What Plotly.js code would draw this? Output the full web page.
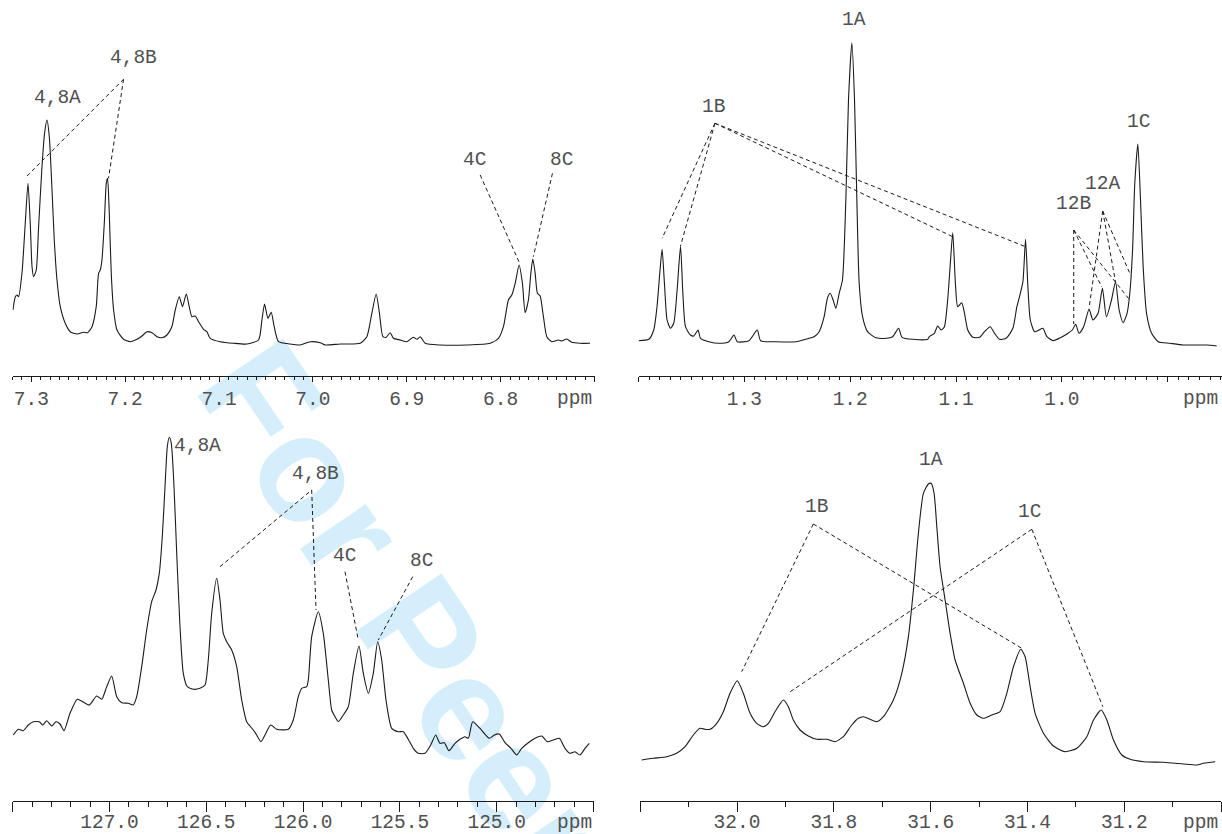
<!DOCTYPE html>
<html>
<head>
<meta charset="utf-8">
<script src="https://cdn.plot.ly/plotly-3.0.1.min.js"></script>
<style>
  html, body { margin:0; padding:0; background:#ffffff; }
  #wm { position:absolute; left:235px; top:284px; font:bold 150px 'Liberation Sans', Arial, sans-serif;
        line-height:150px; color:#d4eefb; white-space:nowrap; transform-origin:0 50%; transform:rotate(56deg); }
  #chart { position:absolute; left:0; top:0; width:1222px; height:834px; }
</style>
</head>
<body>
<div id="wm">For Peer Review</div>
<div id="chart"></div>
<script>
// ---------- Panel 1: 1H aromatic region (ppm, intensity) ----------
const p1Ppm = [7.3195,7.3170,7.3152,7.3135,7.3099,7.3064,7.3035,7.3011,7.2992,7.2975,7.2947,7.2922,7.2886,7.2858,7.2833,7.2808,7.2779,7.2755,7.2726,7.2691,7.2638,7.2585,7.2513,7.2443,7.2400,7.2353,7.2308,7.2283,7.2265,7.2247,7.2222,7.2201,7.2187,7.2169,7.2148,7.2123,7.2087,7.2017,7.1946,7.1874,7.1821,7.1768,7.1714,7.1661,7.1608,7.1555,7.1502,7.1466,7.1424,7.1389,7.1349,7.1317,7.1289,7.1253,7.1218,7.1165,7.1129,7.1094,7.0987,7.0845,7.0703,7.0579,7.0543,7.0515,7.0479,7.0444,7.0412,7.0366,7.0242,7.0135,7.0029,6.9922,6.9869,6.9709,6.9496,6.9425,6.9372,6.9326,6.9291,6.9254,6.9219,6.9177,6.9142,6.9070,6.8999,6.8929,6.8892,6.8857,6.8804,6.8644,6.8360,6.8112,6.8023,6.7970,6.7917,6.7881,6.7845,6.7803,6.7768,6.7739,6.7704,6.7678,6.7657,6.7632,6.7608,6.7579,6.7544,6.7508,6.7455,6.7384,6.7348,6.7295,6.7242,6.7153,6.7047];
const p1Int = [50,63.3,65,63.3,87,137,176.7,137,93.3,83.3,90,133.3,193.3,227,240,223.3,170,120,80,53.3,36.7,28.3,26,27.7,27.3,33.3,53.3,86.7,90,100,137,176.7,181.7,146.7,86.7,50,30,20.7,18.3,20.7,24,28.3,27.3,23.3,22.3,25,33.3,50,63.3,53.3,66,53.3,43.3,44,38.3,30.7,28.3,21.7,18.3,16.7,16,20,40,56,41.7,47.7,33.3,18.3,16,15,18.3,17.3,15,16,16.7,23.3,46.7,66,46.7,23.3,22.7,27.3,21.7,20,18.3,22.7,20.7,23.3,16.7,15,15,16.7,21.7,33.3,60,65,76.7,95,76.7,47.3,60,86.7,101,86.7,66.7,64,43.3,23.3,18.3,20,19,21,17.7,16.7,16.7];
const p1Labels = ["4,8A","4,8B","4C","8C"];
const p1LabelX = [7.2723,7.1914,6.8282,6.7356];
const p1LabelY = [262,302,200,200];
// connector segments: [x0, y0, x1, y1]
const p1Links = [[7.3046,184,7.2017,280.7],[7.2017,280.7,7.2177,181.7],[6.8218,185,6.7800,97.3],[6.7448,186.7,6.7651,103.3]];

// ---------- Panel 2: 1H aliphatic region ----------
const p2Ppm = [1.3998,1.3903,1.3856,1.3825,1.3799,1.3777,1.3755,1.3730,1.3698,1.3667,1.3635,1.3603,1.3581,1.3556,1.3509,1.3477,1.3437,1.3414,1.3335,1.3240,1.3146,1.3098,1.3067,1.2956,1.2878,1.2846,1.2704,1.2514,1.2388,1.2341,1.2293,1.2246,1.2215,1.2189,1.2161,1.2135,1.2104,1.2073,1.2041,1.2016,1.1984,1.1959,1.1937,1.1915,1.1883,1.1836,1.1757,1.1662,1.1599,1.1543,1.1510,1.1410,1.1268,1.1252,1.1205,1.1173,1.1141,1.1110,1.1079,1.1056,1.1031,1.1006,1.0984,1.0946,1.0920,1.0889,1.0842,1.0778,1.0731,1.0677,1.0636,1.0589,1.0526,1.0463,1.0425,1.0400,1.0368,1.0343,1.0321,1.0298,1.0258,1.0217,1.0179,1.0141,1.0084,1.0005,0.9942,0.9901,0.9869,0.9838,0.9794,0.9743,0.9706,0.9658,0.9617,0.9579,0.9531,0.9493,0.9459,0.9421,0.9384,0.9358,0.9332,0.9311,0.9282,0.9257,0.9232,0.9200,0.9152,0.9090,0.8979,0.8853,0.8726,0.8632,0.8537];
const p2Int = [19.3,20.7,30,53.3,86.7,110.7,76.7,40,31.7,36.7,70,114,66.7,33.3,25,24,30,21.7,18.3,16.7,18.3,25,18.3,19.3,30,19.3,18.3,18.3,21.7,23.3,28.3,43.3,61.7,66.7,60,51.7,66.7,80,160,260,317.3,260,160,76.7,43.3,28.3,22.3,21.7,23.3,31.7,22.7,20.7,20.7,23.3,26.7,34,30,33.3,60,93.3,127.3,76.7,53.3,57.3,46.7,30,22.7,22.7,28.3,33.3,26.7,20.7,21.7,31.7,53.3,63.3,78.3,120.7,73.3,40,28.3,30,31.7,23.3,19.3,22.7,26.7,30,35.7,26.7,33.3,50.7,40,46.7,71.7,43.3,60,78.3,50,37.3,46.7,66.7,110,176.7,216,160,93.3,46.7,26.7,18.3,16.7,15,15,15,14];
const p2Labels = ["1A","1B","12B","12A","1C"];
const p2LabelX = [1.1962,1.3288,0.9893,0.9618,0.9273];
const p2LabelY = [340,253,156,176,238];
const p2Links = [[1.3278,236.7,1.3777,121.7],[1.3278,236.7,1.3603,114],[1.3278,236.7,1.1031,123.3],[1.3278,236.7,1.0343,113.3],
                 [0.9888,130,0.9888,36],[0.9888,130,0.9623,73],[0.9888,130,0.9358,60],
                 [0.9614,149,0.9743,51.7],[0.9614,149,0.9493,78.3],[0.9614,149,0.9351,85]];

// ---------- Panel 3: 13C aromatic region ----------
const p3Ppm = [127.4969,127.4711,127.4452,127.4194,127.3936,127.3626,127.3450,127.3244,127.2986,127.2763,127.2557,127.2350,127.2040,127.1663,127.1384,127.1043,127.0661,127.0403,127.0145,126.9886,126.9628,126.9370,126.9029,126.8771,126.8595,126.8337,126.8079,126.7820,126.7598,126.7428,126.7273,126.7133,126.7014,126.6911,126.6808,126.6668,126.6529,126.6358,126.6188,126.5981,126.5671,126.5325,126.5067,126.4897,126.4721,126.4463,126.4292,126.4122,126.3946,126.3688,126.3430,126.3171,126.2913,126.2572,126.2397,126.2175,126.1968,126.1674,126.1364,126.0765,126.0506,126.0248,126.0072,125.9814,125.9731,125.9556,125.9215,125.8957,125.8698,125.8523,125.8352,125.8182,125.7924,125.7665,125.7407,125.7113,125.6890,125.6632,125.6374,125.6147,125.5940,125.5718,125.5424,125.5083,125.4824,125.4566,125.4308,125.4050,125.3704,125.3409,125.3151,125.2929,125.2707,125.2464,125.2154,125.1896,125.1637,125.1467,125.1240,125.0863,125.0382,125.0124,124.9866,124.9571,124.9261,124.8967,124.8709,124.8368,124.8022,124.7676,124.7386,124.7076,124.6767,124.6472,124.6214,124.5956,124.5697,124.5439,124.5217];
const p3Int = [55,60.7,59.3,65,68.3,68.3,65,69.3,64,68.3,66,59.3,76.7,90.7,88.3,85,94,90.7,103.3,114,93.3,87.3,86.7,85,93.3,123.3,160,188.3,200,216.7,253.3,303.3,343.3,352.7,346.7,303.3,236.7,163.3,116.7,103.3,100.7,101.7,105,130,176.7,211.7,190,156.7,148.3,140,123.3,90,68.3,60,55,48.3,55,65,60.7,60.7,70,93.3,101.7,103.3,110,153.3,178.3,156.7,110,80,73.3,68.3,75,83.3,116.7,144,116.7,96.7,116.7,148.3,130,90,61.7,58.3,58.3,50.7,41.7,36.7,36.7,45,55,46.7,47.3,39.3,46.7,50.7,53.3,51.7,68.3,61.7,51.7,55,56,47.3,41.7,35,41.7,47.3,51.7,54,48.3,50,51.7,41.7,36.7,38.3,35,41.7,46.7];
const p3Labels = ["4,8A","4,8B","4C","8C"];
const p3LabelX = [126.548,125.9334,125.7887,125.3910];
const p3LabelY = [344,316,234,229];
const p3Links = [[126.4292,223.3,125.9556,300],[125.9556,300,125.9334,180],[125.7836,218.3,125.7149,150],[125.4339,213.3,125.6116,150]];

// ---------- Panel 4: 13C C1 region ----------
const p4Ppm = [32.1969,32.1729,32.1453,32.1246,32.1074,32.0903,32.0764,32.0661,32.0558,32.0419,32.0283,32.0145,31.9994,31.9870,31.9731,31.9593,31.9457,31.9353,31.9215,31.9043,31.8940,31.8837,31.8698,31.8527,31.8353,31.8147,31.7975,31.7804,31.7630,31.7494,31.7390,31.7252,31.7114,31.6977,31.6771,31.6597,31.6461,31.6357,31.6254,31.6151,31.6048,31.5992,31.5930,31.5874,31.5806,31.5702,31.5599,31.5496,31.5324,31.5186,31.5048,31.4911,31.4738,31.4566,31.4428,31.4291,31.4138,31.4050,31.3946,31.3843,31.3671,31.3465,31.3223,31.2981,31.2775,31.2638,31.2479,31.2362,31.2225,31.2052,31.1880,31.1605,31.1192,31.0779,31.0502,31.0366,31.0124];
const p4Int = [30,31.7,33.3,36.7,43.3,55,61.7,60.7,60.7,66.7,78.3,96.7,109.3,96.7,76.7,66.7,63.3,66.7,78.3,90,83.3,70,60,54,50.7,50.7,48.3,53.3,65,71.7,73.3,70.7,68.3,73.3,90,116.7,153.3,200,256.7,296.7,306,306.7,296.7,263.3,223.3,190,156.7,130,106.7,86.7,75,71.7,75,78.3,96.7,123.3,140.7,133.3,103.3,76.7,56.7,44,38.3,41.7,53.3,70,80,70,50,35,30.7,28.3,27.7,26,25,26.7,28.3];
const p4Labels = ["1A","1B","1C"];
const p4LabelX = [31.5992,31.8368,31.3967];
const p4LabelY = [330,283,278];
const p4Links = [[31.8424,266,31.9903,118.3],[31.8424,266,31.4118,141.7],[31.3911,260.7,31.8920,97.7],[31.3911,260.7,31.2444,83.3]];

// ---------- Axis tick definitions ----------
const p1TickVals = [7.3,7.2,7.1,7.0,6.9,6.8,6.7];
const p1TickText = ["7.3","7.2","7.1","7.0","6.9","6.8",""];
const p2TickVals = [1.4,1.3,1.2,1.1,1.0,0.9];
const p2TickText = ["","1.3","1.2","1.1","1.0",""];
const p3TickVals = [127.5,127.0,126.5,126.0,125.5,125.0,124.5];
const p3TickText = ["","127.0","126.5","126.0","125.5","125.0",""];
const p4TickVals = [32.2,32.0,31.8,31.6,31.4,31.2,31.0];
const p4TickText = ["","32.0","31.8","31.6","31.4","31.2",""];

const FONT = "'Liberation Mono', 'Courier New', monospace";
const TXT = '#505050';
const INK = '#1a1a1a';
const W = 1222, H = 834;

function xAxis(pxL, pxR, range, vals, text, minorDt, majLen, minLen, anchor, standoff) {
  return {
    domain:[pxL/W, pxR/W], range:range, autorange:false, anchor:anchor,
    tickmode:'array', tickvals:vals, ticktext:text,
    ticks:'outside', ticklen:majLen, tickwidth:1, tickcolor:INK,
    showline:true, linecolor:INK, linewidth:1, showgrid:false, zeroline:false,
    tickfont:{family:FONT, size:19.5, color:TXT}, ticklabelstandoff:standoff,
    minor:{dtick:minorDt, tick0:0, ticks:'outside', ticklen:minLen, tickwidth:1, tickcolor:INK, showgrid:false},
    fixedrange:true
  };
}
function yAxis(pxTop, pxBottom, range) {
  return {domain:[1-pxBottom/H, 1-pxTop/H], range:range, autorange:false, visible:false, fixedrange:true};
}

const panels = [
  {x:p1Ppm, y:p1Int, lab:p1Labels, lx:p1LabelX, ly:p1LabelY, links:p1Links, xr:'x', yr:'y'},
  {x:p2Ppm, y:p2Int, lab:p2Labels, lx:p2LabelX, ly:p2LabelY, links:p2Links, xr:'x2', yr:'y2'},
  {x:p3Ppm, y:p3Int, lab:p3Labels, lx:p3LabelX, ly:p3LabelY, links:p3Links, xr:'x3', yr:'y3'},
  {x:p4Ppm, y:p4Int, lab:p4Labels, lx:p4LabelX, ly:p4LabelY, links:p4Links, xr:'x4', yr:'y4'}
];

const traces = [], shapes = [], annotations = [];
panels.forEach(p => {
  traces.push({x:p.x, y:p.y, xaxis:p.xr, yaxis:p.yr, type:'scatter', mode:'lines',
    line:{color:INK, width:1.1, shape:'spline', smoothing:0.6}, hoverinfo:'skip', showlegend:false});
  p.links.forEach(l => shapes.push({type:'line', xref:p.xr, yref:p.yr, x0:l[0], y0:l[1], x1:l[2], y1:l[3],
    line:{color:INK, width:1, dash:'4px,3px'}}));
  p.lab.forEach((t,i) => annotations.push({text:t, x:p.lx[i], y:p.ly[i], xref:p.xr, yref:p.yr,
    showarrow:false, xanchor:'center', yanchor:'middle', font:{family:FONT, size:19.5, color:TXT}}));
});
// "ppm" unit labels at the right end of each axis
[[594,399],[1220,399],[594,823],[1220,823]].forEach(q => annotations.push({text:'ppm', xref:'paper', yref:'paper',
  x:q[0]/W, y:1-q[1]/H, xanchor:'right', yanchor:'middle', showarrow:false, font:{family:FONT, size:19.5, color:TXT}}));

const layout = {
  width:W, height:H, margin:{l:0, r:0, t:0, b:0},
  paper_bgcolor:'rgba(0,0,0,0)', plot_bgcolor:'rgba(0,0,0,0)', showlegend:false,
  xaxis:  xAxis(12.5, 594.5, [7.32, 6.70], p1TickVals, p1TickText, 0.01, 5, 3, 'y', 0),
  xaxis2: xAxis(638.5, 1222, [1.40, 0.8487], p2TickVals, p2TickText, 0.01, 5, 3, 'y2', 0),
  xaxis3: xAxis(12.7, 593.5, [127.5, 124.5], p3TickVals, p3TickText, 0.1, 10, 5, 'y3', -7),
  xaxis4: xAxis(640.2, 1221.2, [32.2, 31.0], p4TickVals, p4TickText, 0.1, 10, 5, 'y4', -7),
  yaxis:  yAxis(0, 376, [-16, 360]),
  yaxis2: yAxis(0, 376, [-16, 360]),
  yaxis3: yAxis(420, 801, [-11, 370]),
  yaxis4: yAxis(420, 801, [-11, 370]),
  shapes:shapes, annotations:annotations
};
Plotly.newPlot('chart', traces, layout, {displayModeBar:false, staticPlot:true});
</script>
</body>
</html>
